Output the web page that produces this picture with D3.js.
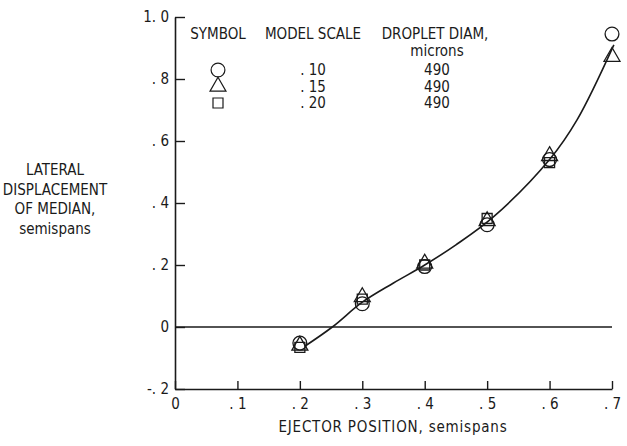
<!DOCTYPE html>
<html>
<head>
<meta charset="utf-8">
<script src="https://cdn.jsdelivr.net/npm/d3@7"></script>
<style>
  body { margin: 0; background: #fff; }
  svg text { font-family: "DejaVu Sans Condensed", "DejaVu Sans", sans-serif; fill: #1a1a1a; }
</style>
</head>
<body>
<svg id="chart" width="627" height="446"></svg>
<script>
// data
const xTicks = [0, 0.1, 0.2, 0.3, 0.4, 0.5, 0.6, 0.7];
const xTickLabels = ["0", ". 1", ". 2", ". 3", ". 4", ". 5", ". 6", ". 7"];
const yTicks = [-0.2, 0, 0.2, 0.4, 0.6, 0.8, 1.0];
const yTickLabels = ["-. 2", "0", ". 2", ". 4", ". 6", ". 8", "1. 0"];

const circlePts = [[0.2, -0.052], [0.3, 0.075], [0.4, 0.195], [0.5, 0.33], [0.6, 0.54], [0.7, 0.945]];
const trianglePts = [[0.2, -0.06], [0.3, 0.097], [0.4, 0.205], [0.5, 0.342], [0.6, 0.552], [0.7, 0.872]];
const squarePts = [[0.2, -0.066], [0.3, 0.09], [0.4, 0.2], [0.5, 0.35], [0.6, 0.53]];

// faired curve as drawn in the picture
const curvePts = [[0.208, -0.062], [0.252, 0], [0.3, 0.08], [0.35, 0.142], [0.4, 0.2],
                  [0.45, 0.265], [0.51, 0.355], [0.6, 0.54], [0.644, 0.668], [0.703, 0.91]];

const legendRows = [
    {symbol: "circle", scale: ". 10", diam: "490"},
    {symbol: "triangle", scale: ". 15", diam: "490"},
    {symbol: "square", scale: ". 20", diam: "490"}
];

const svg = d3.select("#chart");
const ink = "#1a1a1a";

const x = d3.scaleLinear().domain([0, 0.7]).range([175, 612]);
const y = d3.scaleLinear().domain([-0.2, 1.0]).range([389, 17]);

// axes, ticks point into the plot
const gx = svg.append("g")
    .attr("transform", "translate(0," + y(-0.2) + ")")
    .call(d3.axisBottom(x).tickValues(xTicks).tickSize(-8).tickSizeOuter(0).tickPadding(6)
        .tickFormat((d, i) => xTickLabels[i]));
gx.selectAll("text").attr("font-size", 15).attr("dy", "0.9em");
gx.select(".domain").attr("stroke", ink).attr("stroke-width", 1.6);
gx.selectAll(".tick line").attr("stroke", ink).attr("stroke-width", 1.4);

const gy = svg.append("g")
    .attr("transform", "translate(" + x(0) + ",0)")
    .call(d3.axisLeft(y).tickValues(yTicks).tickSize(-10).tickSizeOuter(0).tickPadding(6)
        .tickFormat((d, i) => yTickLabels[i]));
gy.selectAll("text").attr("font-size", 15);
gy.select(".domain").attr("stroke", ink).attr("stroke-width", 1.6);
gy.selectAll(".tick line").attr("stroke", ink).attr("stroke-width", 1.4);

// zero line
svg.append("line")
    .attr("x1", x(0)).attr("x2", x(0.7))
    .attr("y1", y(0)).attr("y2", y(0))
    .attr("stroke", ink).attr("stroke-width", 1.5);

// curve
svg.append("path")
    .datum(curvePts)
    .attr("fill", "none")
    .attr("stroke", ink)
    .attr("stroke-width", 1.6)
    .attr("d", d3.line().x(d => x(d[0])).y(d => y(d[1])).curve(d3.curveCatmullRom.alpha(0.5)));

// markers
const sym = {
    circle: d3.symbol().type(d3.symbolCircle).size(150),
    triangle: d3.symbol().type(d3.symbolTriangle).size(110),
    square: d3.symbol().type(d3.symbolSquare).size(100)
};
function drawMarkers(pts, kind) {
    svg.append("g").selectAll("path")
        .data(pts)
        .enter().append("path")
        .attr("transform", d => "translate(" + x(d[0]) + "," + y(d[1]) + ")")
        .attr("d", sym[kind]())
        .attr("fill", "none")
        .attr("stroke", ink)
        .attr("stroke-width", 1.3);
}
drawMarkers(squarePts, "square");
drawMarkers(trianglePts, "triangle");
drawMarkers(circlePts, "circle");

// legend
const lg = svg.append("g").attr("font-size", 15);
lg.append("text").attr("x", 218).attr("y", 39).attr("text-anchor", "middle").text("SYMBOL");
lg.append("text").attr("x", 313).attr("y", 39).attr("text-anchor", "middle").text("MODEL SCALE");
lg.append("text").attr("x", 435).attr("y", 39).attr("text-anchor", "middle").text("DROPLET DIAM,");
lg.append("text").attr("x", 437).attr("y", 56).attr("text-anchor", "middle").text("microns");
legendRows.forEach((r, i) => {
    const yy = 70 + i * 16.5;
    lg.append("path")
        .attr("transform", "translate(218," + yy + ")")
        .attr("d", sym[r.symbol]())
        .attr("fill", "none").attr("stroke", ink).attr("stroke-width", 1.2);
    lg.append("text").attr("x", 313).attr("y", yy + 5).attr("text-anchor", "middle").text(r.scale);
    lg.append("text").attr("x", 437).attr("y", yy + 5).attr("text-anchor", "middle").text(r.diam);
});

// axis titles
const yTitle = ["LATERAL", "DISPLACEMENT", "OF MEDIAN,", "semispans"];
svg.append("g").selectAll("text")
    .data(yTitle)
    .enter().append("text")
    .attr("x", 55)
    .attr("y", (d, i) => 175 + i * 19.5)
    .attr("text-anchor", "middle")
    .attr("font-size", 15)
    .text(d => d);

svg.append("text")
    .attr("x", 393).attr("y", 432)
    .attr("text-anchor", "middle")
    .attr("font-size", 15)
    .attr("letter-spacing", 0.8)
    .text("EJECTOR POSITION, semispans");
</script>
</body>
</html>
